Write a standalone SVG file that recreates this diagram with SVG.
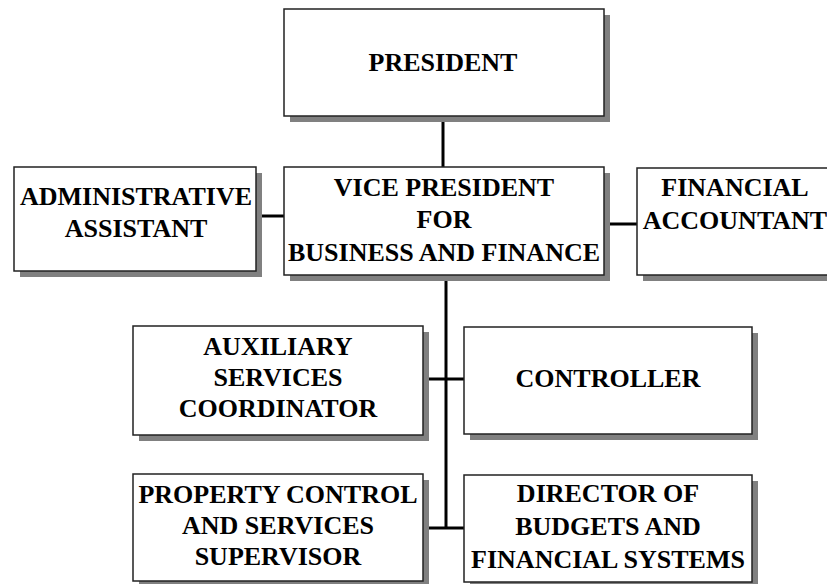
<svg xmlns="http://www.w3.org/2000/svg" width="827" height="584" viewBox="0 0 827 584">
<style>
.sh{fill:#808080;stroke:none}
.bx{fill:#fff;stroke:#222;stroke-width:1.5}
.ln{stroke:#000;stroke-width:3;fill:none}
text{font-family:"Liberation Serif","Times New Roman",serif;font-weight:bold;font-size:26px;text-anchor:middle;fill:#000}
</style>
<rect width="827" height="584" fill="#fff"/>
<g id="connectors">
<line class="ln" x1="443" y1="116" x2="443" y2="167"/>
<line class="ln" x1="256" y1="216" x2="284" y2="216"/>
<line class="ln" x1="604" y1="224" x2="637" y2="224"/>
<line class="ln" x1="446" y1="275" x2="446" y2="528"/>
<line class="ln" x1="423" y1="379" x2="464" y2="379"/>
<line class="ln" x1="423" y1="528" x2="464" y2="528"/>
</g>
<g id="president">
<rect class="sh" x="290" y="15" width="320" height="107"/>
<rect class="bx" x="284" y="9" width="320" height="107"/>
<text x="443" y="71">PRESIDENT</text>
</g>
<g id="admin">
<rect class="sh" x="20" y="173" width="242" height="104"/>
<rect class="bx" x="14" y="167" width="242" height="104"/>
<text x="136" y="205">ADMINISTRATIVE</text>
<text x="136" y="237">ASSISTANT</text>
</g>
<g id="vp">
<rect class="sh" x="290" y="173" width="320" height="108"/>
<rect class="bx" x="284" y="167" width="320" height="108"/>
<text x="444" y="196">VICE PRESIDENT</text>
<text x="444" y="228">FOR</text>
<text x="444" y="261">BUSINESS AND FINANCE</text>
</g>
<g id="accountant">
<rect class="sh" x="643" y="174" width="200" height="107"/>
<rect class="bx" x="637" y="168" width="200" height="107"/>
<text x="735" y="196">FINANCIAL</text>
<text x="735" y="229">ACCOUNTANT</text>
</g>
<g id="auxiliary">
<rect class="sh" x="139" y="332" width="290" height="109"/>
<rect class="bx" x="133" y="326" width="290" height="109"/>
<text x="278" y="355">AUXILIARY</text>
<text x="278" y="386">SERVICES</text>
<text x="278" y="417">COORDINATOR</text>
</g>
<g id="controller">
<rect class="sh" x="470" y="333" width="288" height="107"/>
<rect class="bx" x="464" y="327" width="288" height="107"/>
<text x="608" y="387">CONTROLLER</text>
</g>
<g id="property">
<rect class="sh" x="139" y="480" width="290" height="107"/>
<rect class="bx" x="133" y="474" width="290" height="107"/>
<text x="278" y="503">PROPERTY CONTROL</text>
<text x="278" y="534">AND SERVICES</text>
<text x="278" y="565">SUPERVISOR</text>
</g>
<g id="director">
<rect class="sh" x="470" y="481" width="288" height="107"/>
<rect class="bx" x="464" y="475" width="288" height="107"/>
<text x="608" y="502">DIRECTOR OF</text>
<text x="608" y="535">BUDGETS AND</text>
<text x="608" y="568">FINANCIAL SYSTEMS</text>
</g>
</svg>
